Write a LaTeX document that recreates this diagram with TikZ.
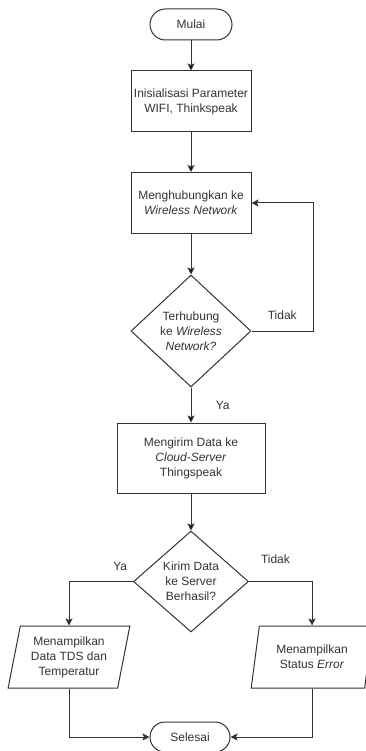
\documentclass[tikz,border=0pt]{standalone}
\usepackage{fontspec}
\setmainfont{Liberation Sans}
\usetikzlibrary{shapes.geometric}
\usetikzlibrary{shapes.misc}
\usetikzlibrary{arrows.meta}
\definecolor{ink}{HTML}{333333}

\begin{document}
\begin{tikzpicture}[x=1pt,y=-1pt,
  every node/.style={font=\fontsize{12}{15}\selectfont,text=ink,align=center},
  term/.style={rounded rectangle,draw=ink,line width=1pt,minimum width=82pt,minimum height=31pt,inner sep=0pt},
  proc/.style={rectangle,draw=ink,line width=1pt,minimum width=120pt,minimum height=61pt,inner sep=0pt},
  dec/.style={diamond,draw=ink,line width=1pt,inner sep=0pt},
  io/.style={trapezium,trapezium left angle=77,trapezium right angle=103,trapezium stretches=true,
    draw=ink,line width=1pt,minimum width=122pt,minimum height=62pt,inner sep=0pt},
  flow/.style={draw=ink,line width=1pt,-{Stealth[length=7pt,width=7pt,inset=1.5pt]}}]
  \useasboundingbox (0,0) rectangle (366,751);
  \node[term] (mulai) at (191,24.5) {Mulai};
  \node[proc] (init) at (191,101.5) {Inisialisasi Parameter\\WIFI, Thinkspeak};
  \node[proc] (hub) at (191,203) {Menghubungkan ke\\\textit{Wireless Network}};
  \node[dec,minimum width=120pt,minimum height=112pt] (cek1) at (191,331) {Terhubung\\ke \textit{Wireless}\\\textit{Network?}};
  \node[proc,minimum width=148pt,minimum height=70pt] (kirim) at (191,458) {Mengirim Data ke\\\textit{Cloud-Server}\\Thingspeak};
  \node[dec,minimum width=115pt,minimum height=101pt] (cek2) at (191,581.5) {Kirim Data\\ke Server\\Berhasil?};
  \node[io] (ok) at (69,657) {Menampilkan\\Data TDS dan\\Temperatur};
  \node[io] (err) at (312,657) {Menampilkan\\Status \textit{Error}};
  \node[term,minimum width=80pt,minimum height=30pt] (selesai) at (190,737) {Selesai};
  \coordinate (loop) at (313,331);

  \path[flow]
    (mulai) edge (init)
    (init) edge (hub)
    (hub) edge (cek1)
    (cek1) edge node [right=21pt] {Ya} (kirim)
    (kirim) edge (cek2);
  \draw[flow] (cek1.east) -- node [above=8pt] {Tidak} (loop) |- (hub.east);
  \draw[flow] (cek2.west) -| node [pos=0.1,above=7pt] {Ya} (ok.north);
  \draw[flow] (cek2.east) -| node [pos=0.21,above=14pt] {Tidak} (err.north);
  \draw[flow] (ok.south) |- (selesai.west);
  \draw[flow] (err.south) |- (selesai.east);
\end{tikzpicture}
\end{document}
